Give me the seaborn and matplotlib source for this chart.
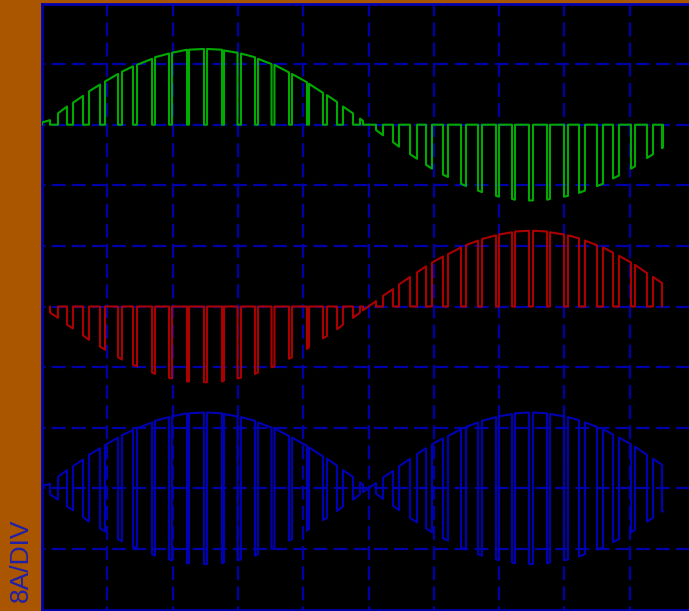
import numpy as np
import pandas as pd
import matplotlib
matplotlib.use("Agg")
import matplotlib.pyplot as plt
import seaborn as sns

# ---- scope settings -------------------------------------------------------
SCALE_LABEL = "8A/DIV"
A_PER_DIV = 8
N_DIV_X = 10
N_DIV_Y = 10

# ---- phase A (green): windows where the current is seen, time in div,
#      current in A at window start / end
green_t0 = [0.00, 0.245, 0.475, 0.720, 0.965, 1.225, 1.455, 1.730, 1.991, 2.251,
            2.527, 2.787, 3.047, 3.308, 3.560, 3.828, 4.089, 4.364, 4.609, 4.870,
            5.115, 5.375, 5.636, 5.881, 6.141, 6.417, 6.677, 6.953, 7.198, 7.458,
            7.734, 7.994, 8.224, 8.499, 8.744, 9.020, 9.265, 9.495]
green_t1 = [0.123, 0.383, 0.628, 0.888, 1.164, 1.394, 1.685, 1.945, 2.221, 2.481,
            2.757, 2.994, 3.262, 3.515, 3.783, 4.058, 4.303, 4.518, 4.763, 4.916,
            5.222, 5.467, 5.743, 5.972, 6.217, 6.493, 6.738, 6.998, 7.243, 7.519,
            7.779, 8.055, 8.315, 8.591, 8.836, 9.081, 9.357, 9.510]
green_i0 = [0.3, 1.5, 2.9, 4.4, 5.7, 7.0, 7.9, 8.9, 9.5, 9.9,
            10.0, 9.8, 9.4, 8.7, 7.9, 6.7, 5.4, 3.9, 2.4, 0.8,
            -0.7, -2.3, -3.9, -5.3, -6.6, -7.8, -8.7, -9.4, -9.8, -10.0,
            -9.9, -9.5, -9.0, -8.1, -7.1, -5.8, -4.4, -3.1]
green_i1 = [0.6, 2.4, 3.8, 5.3, 6.7, 7.7, 8.7, 9.4, 9.9, 10.0,
            9.9, 9.5, 8.9, 8.0, 6.9, 5.6, 4.2, 3.0, 1.5, 0.5,
            -1.4, -2.9, -4.5, -5.8, -6.9, -8.1, -8.9, -9.5, -9.9, -10.0,
            -9.8, -9.4, -8.7, -7.8, -6.7, -5.5, -3.9, -3.0]

# ---- phase B (red) ----------------------------------------------------------
red_t0 = [0.123, 0.383, 0.628, 0.888, 1.164, 1.394, 1.685, 1.945, 2.221, 2.481,
          2.757, 2.994, 3.262, 3.515, 3.783, 4.058, 4.303, 4.518, 4.763, 4.916,
          5.222, 5.467, 5.743, 5.972, 6.217, 6.493, 6.738, 6.998, 7.243, 7.519,
          7.779, 8.055, 8.315, 8.591, 8.836, 9.081, 9.357]
red_t1 = [0.245, 0.475, 0.720, 0.965, 1.225, 1.455, 1.730, 1.991, 2.251, 2.527,
          2.787, 3.047, 3.308, 3.560, 3.828, 4.089, 4.364, 4.609, 4.870, 5.115,
          5.375, 5.636, 5.881, 6.141, 6.417, 6.677, 6.953, 7.198, 7.458, 7.734,
          7.994, 8.224, 8.499, 8.744, 9.020, 9.265, 9.495]
red_i0 = [-0.8, -2.4, -3.8, -5.3, -6.7, -7.7, -8.7, -9.4, -9.9, -10.0,
          -9.9, -9.5, -8.9, -8.0, -6.9, -5.6, -4.2, -3.0, -1.5, -0.5,
          1.4, 2.9, 4.5, 5.8, 6.9, 8.1, 8.9, 9.5, 9.9, 10.0,
          9.8, 9.4, 8.7, 7.8, 6.7, 5.5, 3.9]
red_i1 = [-1.5, -2.9, -4.4, -5.7, -7.0, -7.9, -8.9, -9.5, -9.9, -10.0,
          -9.8, -9.4, -8.7, -7.9, -6.7, -5.4, -3.9, -2.4, -0.8, 0.7,
          2.3, 3.9, 5.3, 6.6, 7.8, 8.7, 9.4, 9.8, 10.0, 9.9,
          9.5, 9.0, 8.1, 7.1, 5.8, 4.4, 3.1]

# vertical position of each trace's zero line, in divisions from the centre
green_pos = 3
red_pos = 0
blue_pos = -3

BG = "#AA5500"
GRID = "#0000AA"
C_GREEN = "#00AA00"
C_RED = "#AA0000"
C_BLUE = "#0000B4"


def chopped(t0, t1, i0, i1):
    """Trace that sits at zero except inside the given windows."""
    xs, ys = [], []
    for a, b, ya, yb in zip(t0, t1, i0, i1):
        xs += [a, a, b, b]
        ys += [0.0, ya, yb, 0.0]
    return np.array(xs), np.array(ys)


def joined(t0, t1, i0, i1):
    """Trace that jumps straight from one window to the next."""
    order = np.argsort(t0, kind="stable")
    xs, ys = [], []
    for k in order:
        xs += [t0[k], t1[k]]
        ys += [i0[k], i1[k]]
    return np.array(xs), np.array(ys)


gx, gy = chopped(green_t0, green_t1, green_i0, green_i1)
rx, ry = chopped(red_t0, red_t1, red_i0, red_i1)
# DC-link current: the sum of both phase currents
bx, by = joined(green_t0 + red_t0, green_t1 + red_t1,
                green_i0 + red_i0, green_i1 + red_i1)

traces = pd.concat([
    pd.DataFrame({"t": gx, "i": gy + green_pos * A_PER_DIV, "ch": "A"}),
    pd.DataFrame({"t": rx, "i": ry + red_pos * A_PER_DIV, "ch": "B"}),
    pd.DataFrame({"t": bx, "i": by + blue_pos * A_PER_DIV, "ch": "DC"}),
], ignore_index=True)

sns.set_style("dark")
plt.rcParams["lines.scale_dashes"] = False
plt.rcParams["font.family"] = ["Liberation Sans", "DejaVu Sans"]

W, H = 689, 611
fig = plt.figure(figsize=(W / 100, H / 100), dpi=100, facecolor=BG)
# graticule spans 653 px horizontally; its right edge runs past the figure
ax = fig.add_axes([42 / W, 1.5 / H, 653 / W, 606 / H])
ax.set_facecolor("black")

half = N_DIV_Y / 2 * A_PER_DIV
ax.set_xlim(0, N_DIV_X)
ax.set_ylim(-half, half)

# dashed graticule
dash = (10.0, 4.5)
for k in range(1, N_DIV_X):
    ax.axvline(k, color=GRID, lw=1.6, linestyle=(7.5, dash), zorder=1)
for k in range(1, N_DIV_Y):
    ax.axhline(-half + k * A_PER_DIV, color=GRID, lw=1.6, linestyle=(7.5, dash), zorder=1)

sns.lineplot(data=traces, x="t", y="i", hue="ch",
             palette={"A": C_GREEN, "B": C_RED, "DC": C_BLUE},
             hue_order=["A", "B", "DC"], sort=False, estimator=None,
             linewidth=1.5, legend=False, ax=ax, zorder=3)

ax.set_xticks([])
ax.set_yticks([])
ax.set_xlabel("")
ax.set_ylabel("")
ax.grid(False)
for s in ax.spines.values():
    s.set_visible(True)
    s.set_color(GRID)
    s.set_linewidth(2)

fig.text(21 / W, 1 - 560 / H, SCALE_LABEL, rotation=90, color="#2020A8",
         fontsize=19, ha="center", va="center")

fig.savefig("out.png", dpi=100, facecolor=BG)
